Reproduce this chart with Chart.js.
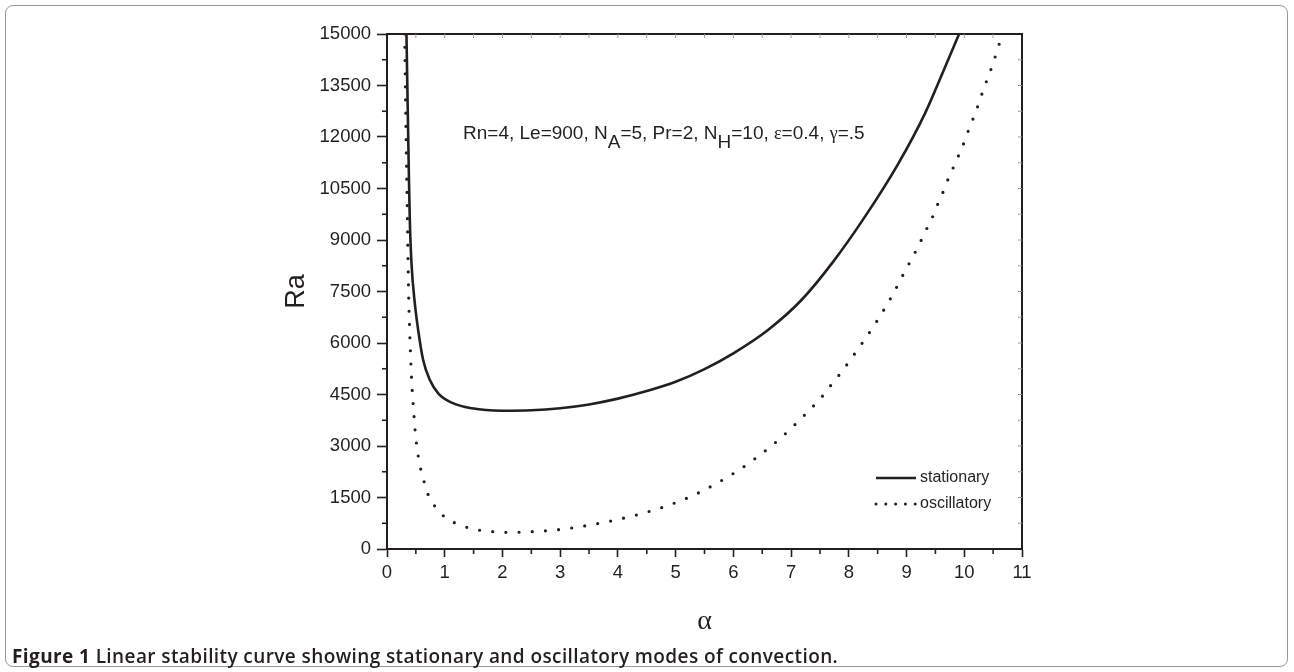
<!DOCTYPE html>
<html>
<head>
<meta charset="utf-8">
<script src="https://cdn.jsdelivr.net/npm/chart.js@4.4.0/dist/chart.umd.min.js"></script>
<style>
  html, body { margin: 0; padding: 0; background: #fff; }
  #wrap { position: relative; width: 1294px; height: 672px; overflow: hidden; }
  #frame { position: absolute; left: 5px; top: 5px; width: 1281px; height: 660px; border: 1px solid #9a9a9a; border-radius: 8px; }
  #myChart { position: absolute; left: 0; top: 0; }
  #caption { position: absolute; left: 12px; top: 643px; font-family: "Open Sans"; font-size: 19px; font-weight: 600;
             color: #231f20; letter-spacing: 0.4px; white-space: nowrap; }
  #caption b { font-weight: 700; }
</style>
</head>
<body>
<div id="wrap">
  <div id="frame"></div>
  <canvas id="myChart" width="1294" height="672"></canvas>
  <div id="caption"><b>Figure 1</b> Linear stability curve showing stationary and oscillatory modes of convection.</div>
</div>
<script>
// values (alpha, Ra)
var alphaStat = [0.337, 0.35, 0.366, 0.38, 0.395, 0.424, 0.482, 0.54, 0.626, 0.743, 0.887, 1.12, 1.47, 1.99, 2.5, 3.0, 3.5, 4.0, 4.5, 5.0, 5.5, 6.0, 6.6, 7.18, 7.73, 8.28, 8.86, 9.32, 9.67, 9.89, 9.91];
var raStat    = [15000, 13700, 12150, 10800, 9583, 8322, 7157, 6379, 5505, 4922, 4534, 4262, 4098, 4028, 4040, 4100, 4210, 4380, 4600, 4870, 5240, 5700, 6379, 7252, 8370, 9680, 11233, 12689, 14049, 14922, 15000];

var alphaOsc = [0.306, 0.32, 0.337, 0.355, 0.365, 0.377, 0.39, 0.407, 0.424, 0.44, 0.47, 0.485, 0.54, 0.64, 0.716, 0.844, 1.03, 1.27, 1.49, 1.71, 1.94, 2.17, 2.39, 2.61, 2.83, 3.06, 3.29, 3.51, 3.73, 3.96, 4.18, 4.41, 4.63, 4.78, 5.0, 5.23, 5.45, 5.68, 5.9, 6.13, 6.35, 6.57, 6.78, 6.97, 7.16, 7.35, 7.53, 7.69, 7.86, 8.02, 8.25, 8.5, 8.75, 8.99, 9.10, 9.22, 9.33, 9.44, 9.54, 9.64, 9.73, 9.83, 9.93, 10.02, 10.10, 10.19, 10.27, 10.35, 10.43, 10.51, 10.58, 10.66, 10.68];
var raOsc    = [15000, 13300, 11300, 9500, 8322, 7252, 6476, 5699, 5019, 4534, 3825, 3488, 2712, 1977, 1570, 1212, 892, 698, 581, 523, 494, 485, 494, 514, 540, 581, 635, 698, 765, 845, 930, 1027, 1140, 1215, 1350, 1505, 1680, 1884, 2097, 2339, 2601, 2884, 3175, 3466, 3777, 4098, 4427, 4768, 5126, 5495, 6040, 6670, 7380, 8146, 8485, 8874, 9262, 9631, 10039, 10427, 10815, 11184, 11572, 11942, 12320, 12689, 13078, 13466, 13825, 14194, 14583, 14942, 15000];

var seriesNames = ['stationary', 'oscillatory'];
var xRange = [0, 11], xStep = 1;
var yRange = [0, 15000], yStep = 1500;
var noteParts = [['Rn=4, Le=900, N', 0], ['A', 1], ['=5, Pr=2, N', 0], ['H', 1], ['=10, ', 0], ['\u03b5', 2], ['=0.4, ', 0], ['\u03b3', 2], ['=.5', 0]];

var ink = '#231f20';

function toPoints(xs, ys) {
  return xs.map(function (x, i) { return { x: x, y: ys[i] }; });
}

// frame, minor ticks, titles, note and legend
var decor = {
  id: 'decor',
  afterDraw: function (chart) {
    var ctx = chart.ctx, a = chart.chartArea;
    var xs = chart.scales.x, ys = chart.scales.y;
    ctx.save();
    ctx.strokeStyle = ink;
    ctx.lineWidth = 2;
    ctx.beginPath();
    ctx.moveTo(a.left - 1, a.top);
    ctx.lineTo(a.right, a.top);
    ctx.lineTo(a.right, a.bottom + 1);
    ctx.stroke();

    // minor ticks outside, small ticks inside on top/right
    var v, p;
    ctx.lineWidth = 1.6;
    for (v = xRange[0] + xStep / 2; v < xRange[1]; v += xStep) {
      p = xs.getPixelForValue(v);
      ctx.beginPath(); ctx.moveTo(p, a.bottom); ctx.lineTo(p, a.bottom + 5); ctx.stroke();
    }
    for (v = yRange[0] + yStep / 2; v < yRange[1]; v += yStep) {
      p = ys.getPixelForValue(v);
      ctx.beginPath(); ctx.moveTo(a.left, p); ctx.lineTo(a.left - 5, p); ctx.stroke();
    }
    ctx.strokeStyle = '#9a9a9a';
    ctx.lineWidth = 1;
    for (v = xRange[0] + xStep / 2; v < xRange[1]; v += xStep / 2) {
      p = xs.getPixelForValue(v);
      ctx.beginPath(); ctx.moveTo(p, a.top); ctx.lineTo(p, a.top + 4); ctx.stroke();
    }
    for (v = yRange[0] + yStep / 2; v < yRange[1]; v += yStep / 2) {
      p = ys.getPixelForValue(v);
      ctx.beginPath(); ctx.moveTo(a.right, p); ctx.lineTo(a.right - 4, p); ctx.stroke();
    }

    // axis titles
    ctx.fillStyle = ink;
    ctx.textAlign = 'center';
    ctx.textBaseline = 'middle';
    ctx.font = '27px "Liberation Sans"';
    ctx.save();
    ctx.translate(297, (a.top + a.bottom) / 2);
    ctx.rotate(-Math.PI / 2);
    ctx.fillText('Ra', 0, 0);
    ctx.restore();
    ctx.font = '28px "Liberation Serif"';
    ctx.fillText('\u03b1', (a.left + a.right) / 2, 622);

    // parameter note
    ctx.textAlign = 'left';
    ctx.textBaseline = 'alphabetic';
    var x = 463, base = 139;
    noteParts.forEach(function (part) {
      ctx.font = part[1] === 2 ? '18px "Liberation Serif"' : '19px "Liberation Sans"';
      ctx.fillText(part[0], x, part[1] === 1 ? base + 9 : base);
      x += ctx.measureText(part[0]).width;
    });

    // legend
    var lx = 876, ly = [478, 504];
    chart.data.datasets.forEach(function (ds, i) {
      ctx.strokeStyle = ds.borderColor;
      ctx.lineWidth = i === 0 ? 2.4 : 3;
      ctx.lineCap = i === 0 ? 'butt' : 'round';
      ctx.setLineDash(i === 0 ? [] : [0, 9.8]);
      ctx.beginPath(); ctx.moveTo(lx, ly[i]); ctx.lineTo(lx + 40, ly[i]); ctx.stroke();
      ctx.setLineDash([]);
      ctx.font = '16px "Liberation Sans"';
      ctx.textBaseline = 'middle';
      ctx.fillText(ds.label, lx + 44, ly[i]);
    });
    ctx.restore();
  }
};

var ctx = document.getElementById('myChart').getContext('2d');
var myChart = new Chart(ctx, {
  type: 'line',
  data: {
    datasets: [{
      label: seriesNames[0],
      data: toPoints(alphaStat, raStat),
      borderColor: ink,
      borderWidth: 2.6,
      pointRadius: 0,
      fill: false,
      cubicInterpolationMode: 'monotone'
    }, {
      label: seriesNames[1],
      data: toPoints(alphaOsc, raOsc),
      borderColor: ink,
      borderWidth: 3.2,
      borderDash: [0, 13.2],
      borderCapStyle: 'round',
      pointRadius: 0,
      fill: false,
      cubicInterpolationMode: 'monotone'
    }]
  },
  options: {
    responsive: false,
    devicePixelRatio: 1,
    animation: false,
    layout: { padding: { left: 200, right: 272, top: 34, bottom: 0 } },
    plugins: {
      legend: { display: false },
      tooltip: { enabled: false }
    },
    scales: {
      x: {
        type: 'linear',
        min: xRange[0], max: xRange[1],
        afterFit: function (s) { s.height = 123; },
        ticks: { stepSize: xStep, color: ink, padding: 5, maxRotation: 0, autoSkip: false,
                 font: { family: 'Liberation Sans', size: 18.5 } },
        grid: { drawOnChartArea: false, tickLength: 8, tickWidth: 1.6, tickColor: ink },
        border: { color: ink, width: 2 }
      },
      y: {
        min: yRange[0], max: yRange[1],
        afterFit: function (s) { s.width = 187; },
        ticks: { stepSize: yStep, color: ink, padding: 6, autoSkip: false,
                 font: { family: 'Liberation Sans', size: 18.5 },
                 callback: function (v) { return String(v); } },
        grid: { drawOnChartArea: false, tickLength: 10, tickWidth: 1.6, tickColor: ink },
        border: { color: ink, width: 2 }
      }
    }
  },
  plugins: [decor]
});
</script>
</body>
</html>
